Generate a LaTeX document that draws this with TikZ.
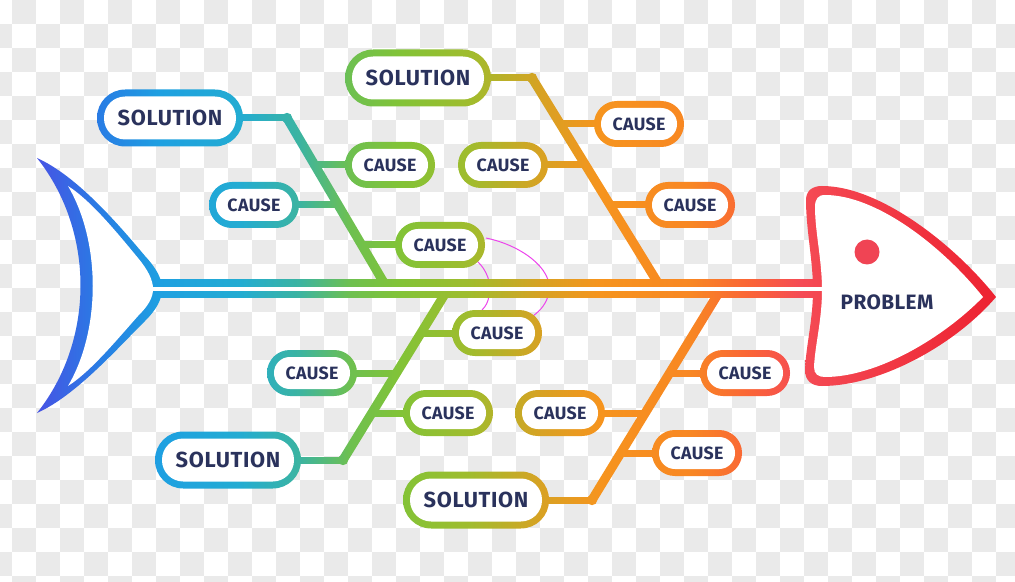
\documentclass[tikz,border=0pt]{standalone}
\usepackage{fontspec}
\setmainfont{Fira Sans}
\usetikzlibrary{calc}

\definecolor{ink}{RGB}{42,50,92}
\definecolor{checkgray}{RGB}{234,234,234}
\definecolor{eyered}{RGB}{240,68,84}
\definecolor{stray}{RGB}{236,70,236}
\definecolor{g0}{RGB}{70,80,230}
\definecolor{g1}{RGB}{70,85,228}
\definecolor{g2}{RGB}{40,125,228}
\definecolor{g3}{RGB}{30,160,225}
\definecolor{g4}{RGB}{35,172,210}
\definecolor{g5}{RGB}{60,180,160}
\definecolor{g6}{RGB}{110,192,80}
\definecolor{g7}{RGB}{130,195,55}
\definecolor{g8}{RGB}{160,188,45}
\definecolor{g9}{RGB}{215,162,35}
\definecolor{g10}{RGB}{246,148,30}
\definecolor{g11}{RGB}{248,135,35}
\definecolor{g12}{RGB}{250,100,55}
\definecolor{g13}{RGB}{245,75,85}
\definecolor{g14}{RGB}{236,30,45}

% one colour ramp for the whole fish, 25bp..75bp = left..right edge
\pgfdeclarehorizontalshading{fishgrad}{100bp}{color(0bp)=(g0); color(25bp)=(g0);
  color(26.97bp)=(g1); color(29.93bp)=(g2); color(32.88bp)=(g3); color(36.82bp)=(g4);
  color(39.78bp)=(g5); color(42.24bp)=(g6); color(44.70bp)=(g7); color(48.15bp)=(g8);
  color(51.60bp)=(g9); color(54.56bp)=(g10); color(58.99bp)=(g11); color(61.95bp)=(g12);
  color(64.41bp)=(g13); color(75bp)=(g14); color(100bp)=(g14)}

\pgfdeclarelayer{bg}
\pgfsetlayers{bg,main}

\tikzset{
  grad/.style={shading=fishgrad, shading angle=0},
  pill/.style={rectangle, inner sep=0pt, outer sep=0pt, text=ink},
  cause/.style={pill, minimum width=45pt, minimum height=23pt,
    font=\bfseries\fontsize{8.9}{10}\selectfont\addfontfeatures{LetterSpace=2}},
  solution/.style={pill, minimum width=73pt, minimum height=28.5pt,
    font=\bfseries\fontsize{10.9}{12}\selectfont\addfontfeatures{LetterSpace=3}},
  problem/.style={pill, font=\bfseries\fontsize{10.4}{12}\selectfont\addfontfeatures{LetterSpace=2}},
  eye/.style={circle, fill=eyered, minimum size=12.5pt, inner sep=0pt},
}

\newcommand\gradfill[1]{\begin{scope}\clip #1; \shade[grad] (0,0) rectangle (1015,582);\end{scope}}
\newcommand\pill[3]{%
  \gradfill{[rounded corners=#2] (#1.south west) rectangle (#1.north east)}
  \fill[white, rounded corners=#3] ([shift={(3.5pt,3.5pt)}]#1.south west)
    rectangle ([shift={(-3.5pt,-3.5pt)}]#1.north east);}

\begin{document}
\begin{tikzpicture}[x=0.5pt,y=-0.5pt]
  \useasboundingbox (0,0) rectangle (1015,582);

  \node[solution] (s1) at (170,118) {SOLUTION};
  \node[cause] (c1) at (254,205) {CAUSE};
  \node[cause] (c2) at (390,165) {CAUSE};
  \node[cause] (c3) at (440,245) {CAUSE};
  \node[solution] (s2) at (418,78) {SOLUTION};
  \node[cause] (c4) at (503,165) {CAUSE};
  \node[cause] (c5) at (639,124) {CAUSE};
  \node[cause] (c6) at (690,205) {CAUSE};
  \node[solution] (s3) at (228,460) {SOLUTION};
  \node[cause] (c7) at (312,373) {CAUSE};
  \node[cause] (c8) at (448,413) {CAUSE};
  \node[cause] (c9) at (497,333) {CAUSE};
  \node[solution] (s4) at (476,500) {SOLUTION};
  \node[cause] (c10) at (560,413) {CAUSE};
  \node[cause] (c11) at (697,453) {CAUSE};
  \node[cause] (c12) at (745,373) {CAUSE};
  \node[problem] (prob) at (887,302) {PROBLEM};
  \node[eye] (eye) at (867,252) {};

  \coordinate (bt1) at (287,118);  \coordinate (bb1) at (387,288);
  \coordinate (bt2) at (532,78);   \coordinate (bb2) at (661,288);
  \coordinate (bt3) at (448,289);  \coordinate (bb3) at (343,460);
  \coordinate (bt4) at (721,289);  \coordinate (bb4) at (592,500);
  \coordinate (tailend) at (150,288.75);
  \coordinate (headend) at (826,288.75);

  \begin{pgfonlayer}{bg}
    \begin{scope}
      \clip (0,0) rectangle (1015,582);
      \foreach \row in {0,...,24} {
        \foreach \col in {0,...,21} {
          \pgfmathsetmacro\xo{12+48*\col-24*mod(\row,2)}
          \pgfmathsetmacro\yo{24*\row}
          \fill[fill=checkgray] (\xo,\yo) rectangle ++(24,24);
        }
      }
    \end{scope}

    \draw[stray, line width=0.5pt] (486,238) .. controls (520,245) and (553,268) .. (549,292)
      .. controls (547,303) and (541,310) .. (533,316);
    \draw[stray, line width=0.5pt] (477,261) .. controls (487,270) and (492,284) .. (489,296)
      .. controls (488,302) and (486,306) .. (482,310);

    % tail and head
    \gradfill{(37,158) .. controls (75,175) and (115,220) .. (145,256)
      .. controls (157,269) and (162,279) .. (162,289) .. controls (162,299) and (157,309) .. (145,321)
      .. controls (115,351) and (75,396) .. (37,413) .. controls (95,340) and (95,231) .. (37,158) -- cycle}
    \gradfill{(806,200) .. controls (806,191) and (812,186) .. (822,186)
      .. controls (880,186) and (955,245) .. (996,297) .. controls (955,345) and (880,386) .. (822,386)
      .. controls (812,386) and (805,381) .. (805,370) .. controls (806,345) and (813,320) .. (813,290)
      .. controls (813,260) and (806,230) .. (806,200) -- cycle}

    \gradfill{([yshift=4.375pt]tailend) rectangle ([yshift=-4.375pt]headend)}

    \foreach \b in {1,...,4} {
      \gradfill{($(bt\b)!2.3pt!90:(bb\b)$) -- ($(bt\b)!2.3pt!-90:(bb\b)$)
        -- ($(bb\b)!2.3pt!90:(bt\b)$) -- ($(bb\b)!2.3pt!-90:(bt\b)$) -- cycle}
    }
    \foreach \s/\e in {s1/bt1,s2/bt2,s3/bb3,s4/bb4} {
      \gradfill{([yshift=1.5pt]\s.center) rectangle ([yshift=-1.5pt]\e)}
      \gradfill{(\e) circle (2.6pt)}
    }
    \foreach \c/\b in {c1/1,c2/1,c3/1,c4/2,c5/2,c6/2,c7/3,c8/3,c9/3,c10/4,c11/4,c12/4} {
      \path let \p1=(bt\b), \p2=(bb\b), \p3=(\c) in
        coordinate (j\c) at ({\x1+(\x2-\x1)*((\y3-\y1)/(\y2-\y1))},\y3);
      \gradfill{([yshift=1.5pt]\c.center) rectangle ([yshift=-1.5pt]j\c)}
    }

    \foreach \i in {1,...,4} {\pill{s\i}{14.1pt}{10.6pt}}
    \foreach \i in {1,...,12} {\pill{c\i}{11.4pt}{7.9pt}}

    \fill[white] (68,186) .. controls (90,200) and (115,230) .. (138,258)
      .. controls (148,270) and (153,280) .. (153,289) .. controls (153,298) and (148,306) .. (138,316)
      .. controls (115,342) and (90,372) .. (68,386) .. controls (101,330) and (101,242) .. (68,186) -- cycle;
    \fill[white] (815,207) .. controls (815,199) and (818,195) .. (825,195)
      .. controls (877,195) and (943,247) .. (983,297) .. controls (943,338) and (877,377) .. (825,377)
      .. controls (818,377) and (814,374) .. (814,367) .. controls (815,345) and (822,320) .. (822,290)
      .. controls (822,260) and (815,232) .. (815,207) -- cycle;
    \fill[white] ([yshift=0.875pt]tailend) rectangle ([yshift=-0.875pt]headend);
  \end{pgfonlayer}
\end{tikzpicture}
\end{document}
